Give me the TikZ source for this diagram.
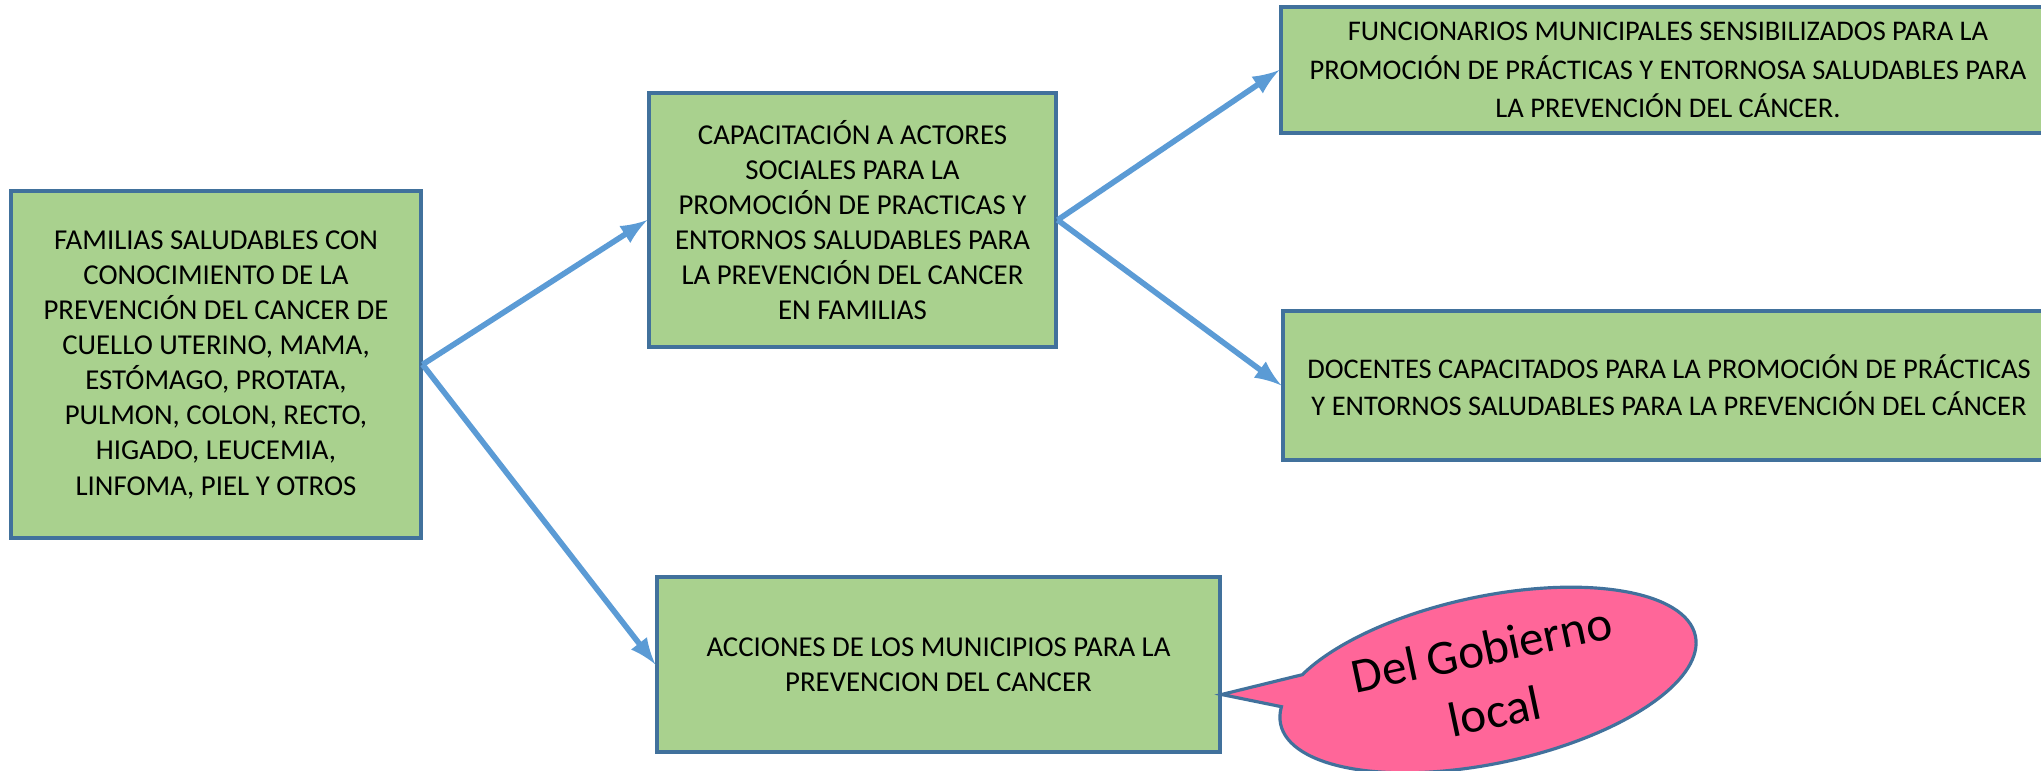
\documentclass[tikz,border=0pt]{standalone}
\usepackage{fontspec}
\setmainfont{Carlito}
\usepackage{tikz}
\usetikzlibrary{arrows}
\usetikzlibrary{shapes.callouts}
\definecolor{box-fill}{RGB}{169,209,142}
\definecolor{box-line}{RGB}{65,113,156}
\definecolor{link-blue}{RGB}{91,155,213}
\definecolor{bubble-pink}{RGB}{255,102,153}
\newcommand{\boxtext}{\fontsize{8.2}{10}\selectfont}
\newcommand{\bubbletext}{\fontsize{14}{18}\selectfont}

\begin{document}
\begin{tikzpicture}[
    box/.style={draw=box-line, fill=box-fill, line width=0.9pt, inner sep=0pt, align=center, font=\boxtext},
    link/.style={->, >=latex, draw=link-blue, line width=1.6pt}]
    \useasboundingbox (0, 0) rectangle (20.41, -7.71);

    \node[box, minimum width=4.10cm, minimum height=3.47cm] (familias) at (2.160, -3.645) {FAMILIAS SALUDABLES CON\\CONOCIMIENTO DE LA\\PREVENCIÓN DEL CANCER DE\\CUELLO UTERINO, MAMA,\\ESTÓMAGO, PROTATA,\\PULMON, COLON, RECTO,\\HIGADO, LEUCEMIA,\\LINFOMA, PIEL Y OTROS};

    \node[box, minimum width=4.07cm, minimum height=2.54cm] (capacitacion) at (8.525, -2.200) {CAPACITACIÓN A ACTORES\\SOCIALES PARA LA\\PROMOCIÓN DE PRACTICAS Y\\ENTORNOS SALUDABLES PARA\\LA PREVENCIÓN DEL CANCER\\EN FAMILIAS};

    \node[box, minimum width=5.63cm, minimum height=1.75cm] (acciones) at (9.385, -6.645) {ACCIONES DE LOS MUNICIPIOS PARA LA\\PREVENCION DEL CANCER};

    \node[box, minimum width=7.74cm, minimum height=1.26cm, font=\fontsize{8.1}{11}\selectfont] (funcionarios) at (16.680, -0.700) {FUNCIONARIOS MUNICIPALES SENSIBILIZADOS PARA LA\\PROMOCIÓN DE PRÁCTICAS Y ENTORNOSA SALUDABLES PARA\\LA PREVENCIÓN DEL CÁNCER.};

    \node[box, minimum width=7.72cm, minimum height=1.49cm, font=\fontsize{8.1}{10.5}\selectfont] (docentes) at (16.690, -3.855) {DOCENTES CAPACITADOS PARA LA PROMOCIÓN DE PRÁCTICAS\\Y ENTORNOS SALUDABLES PARA LA PREVENCIÓN DEL CÁNCER};

    \coordinate (tip) at ([yshift=-0.30cm]acciones.east);
    \node[ellipse callout, draw=box-line, fill=bubble-pink, line width=0.9pt, inner sep=0pt, minimum width=4.24cm, minimum height=1.67cm, rotate=12, callout absolute pointer={(tip)}, callout pointer arc=20, align=center, font=\bubbletext] (gobierno) at (14.880, -6.800) {Del Gobierno\\local};

    \draw[link] (familias.east) -- (capacitacion.west);
    \draw[link] (familias.east) -- (acciones.west);

    \draw[link] (capacitacion.east) -- (funcionarios.west);
    \draw[link] (capacitacion.east) -- (docentes.west);
  \end{tikzpicture}
\end{document}
